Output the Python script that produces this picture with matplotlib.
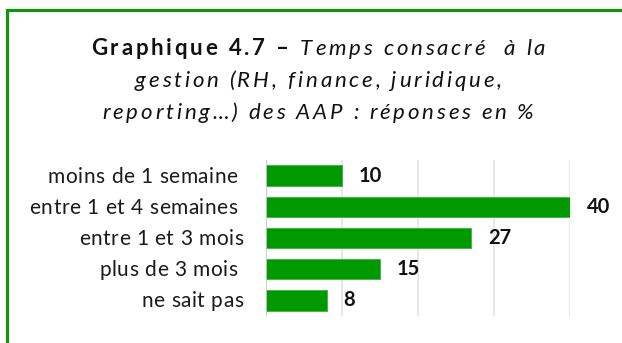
import matplotlib
matplotlib.use("Agg")
import matplotlib.pyplot as plt
from matplotlib.patches import Rectangle
from matplotlib.transforms import blended_transform_factory, ScaledTranslation

categories = ["moins de 1 semaine ", "entre 1 et 4 semaines ", "entre 1 et 3 mois",
              "plus de 3 mois ", "ne sait pas"]
values = [10, 40, 27, 15, 8]
ticks = [0, 10, 20, 30, 40]

title_runs = [
    [("Graphique 4.7 – ", "bold"), ("Temps consacré  à la", "italic")],
    [("gestion (RH, finance, juridique,", "italic")],
    [("reporting…) des AAP : réponses en %", "italic")],
]

FONT = "Lato"
GREEN = "#009900"

W, H = 622, 343
fig = plt.figure(figsize=(W / 100, H / 100), dpi=100)
fig.patch.set_facecolor("white")
renderer = fig.canvas.get_renderer()

# green frame running off the right and bottom edges
frame = Rectangle((7.5 / W, -0.2), 1.2, (H - 9.5) / H + 0.2, transform=fig.transFigure,
                  fill=False, edgecolor="#0a9a0a", linewidth=2.2, clip_on=False)
fig.patches.append(frame)

ax = fig.add_axes([266 / W, 1 - 316 / H, 304 / W, 156 / H])
y = list(range(len(categories)))
ax.barh(y, values, height=0.65, color=GREEN, edgecolor="#3cb33c", linewidth=0.6, zorder=3)
ax.set_ylim(len(categories) - 0.5, -0.5)
ax.set_xlim(0, 40)
ax.set_xticks(ticks)
ax.xaxis.grid(True, color="#e3e3e3", linewidth=1.2, zorder=0)
ax.tick_params(axis="both", length=0, labelbottom=False, labelleft=False)
ax.set_yticks(y)
for s in ax.spines.values():
    s.set_visible(False)
ax.axvline(0, color="#c8c8c8", linewidth=1.2, zorder=4)


def advance(ch, **kw):
    """Horizontal advance of one character in pixels."""
    a = fig.text(0, 0, "x" + ch + "x", **kw)
    b = fig.text(0, 0, "xx", **kw)
    w = a.get_window_extent(renderer).width - b.get_window_extent(renderer).width
    a.remove()
    b.remove()
    return w


def spaced_runs(runs, x_px, ha, spacing, transform, y, common):
    """Draw a sequence of (text, style) runs with extra letter spacing."""
    chars = []
    for txt, style in runs:
        kw = dict(common)
        if style == "bold":
            kw["fontweight"] = "bold"
        elif style == "italic":
            kw["style"] = "italic"
        for ch in txt:
            chars.append((ch, kw, advance(ch, **kw)))
    total = sum(c[2] for c in chars) + spacing * (len(chars) - 1)
    if ha == "center":
        x = x_px - total / 2
    elif ha == "right":
        x = x_px - total
    else:
        x = x_px
    for ch, kw, w in chars:
        if ch != " ":
            fig.text(x / W, y, ch, transform=transform, va="baseline", ha="left", **kw)
        x += w + spacing


# title
for k, runs in enumerate(title_runs):
    spaced_runs(runs, 318, "center", 2.8, fig.transFigure, 1 - (55 + 32 * k) / H,
                dict(fontsize=16, family=FONT, color="#111111"))

# category labels, right-aligned left of the axis, one per bar row
label_tf = blended_transform_factory(fig.transFigure, ax.transData) + \
    ScaledTranslation(0, -7 / 100, fig.dpi_scale_trans)
for yi, cat in zip(y, categories):
    spaced_runs([(cat, "normal")], 243, "right", 0.5, label_tf, yi,
                dict(fontsize=15, family=FONT, color="#1a1a1a"))

# value labels
for yi, v in zip(y, values):
    ax.annotate(str(v), (v, yi), xytext=(12, 0), textcoords="offset points",
                va="center", ha="left", fontsize=14.5, fontweight="bold",
                family=FONT, color="#111111", annotation_clip=False)

fig.savefig("out.png", dpi=100, facecolor="white")
